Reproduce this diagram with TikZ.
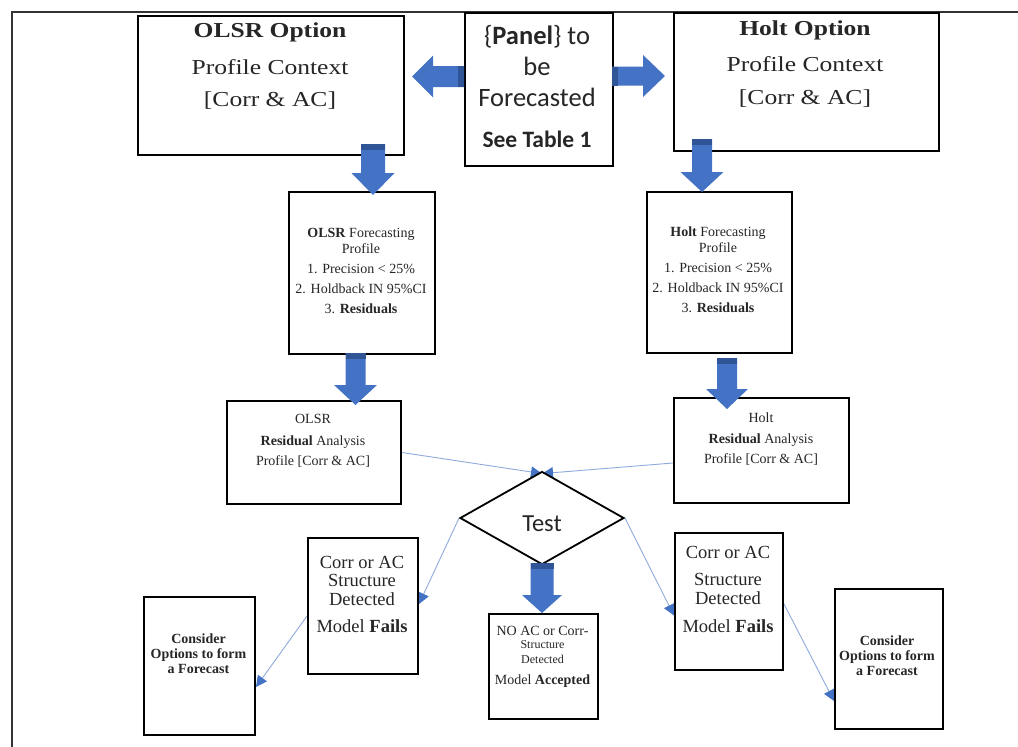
\documentclass[tikz,border=0pt]{standalone}
\usepackage{fontspec}
\setmainfont{Liberation Serif}
\newfontfamily\twide[FakeStretch=1.2]{Liberation Serif}
\newfontfamily\calib{Carlito}
\usetikzlibrary{shapes.geometric,arrows.meta,backgrounds}
\definecolor{bfill}{HTML}{4472C4}
\definecolor{bdark}{HTML}{2F5597}
\definecolor{thinblue}{HTML}{8FAADC}
% vertical block arrow: cx, top, headstart, tip, shaft half width, head half width
\newcommand\vdarrow[6]{%
  \fill[bfill] (#1-#5,#2) -- (#1+#5,#2) -- (#1+#5,#3) -- (#1+#6,#3) -- (#1,#4) -- (#1-#6,#3) -- (#1-#5,#3) -- cycle;
  \fill[bdark] (#1-#5,#2) rectangle (#1+#5,#2+6);}
% horizontal block arrow: cy, tail, band end, headstart, tip, shaft half, head half
\newcommand\hzarrow[7]{%
  \fill[bfill] (#2,#1-#6) -- (#4,#1-#6) -- (#4,#1-#7) -- (#5,#1) -- (#4,#1+#7) -- (#4,#1+#6) -- (#2,#1+#6) -- cycle;
  \fill[bdark] (#2,#1-#6) rectangle (#3,#1+#6);}
\begin{document}
\begin{tikzpicture}[x=1pt,y=-1pt,
  box/.style={draw=black,line width=2pt,fill=white,rectangle,inner sep=0pt,anchor=north west},
  dia/.style={diamond,draw=black,line width=1.8pt,fill=white,inner sep=0pt,minimum width=164pt,minimum height=93pt},
  txt/.style={align=center,inner sep=0pt,anchor=base,text=black!85},
  conn/.style={draw=thinblue,line width=0.9pt,-{Triangle[length=11pt,width=11pt,color=bfill]}}]
\useasboundingbox (0,0) rectangle (1018,747);

% boxes
\node[box,minimum width=266pt,minimum height=139pt] (olsr) at (137,15) {};
\node[box,minimum width=148pt,minimum height=153pt] (panel) at (464,12) {};
\node[box,minimum width=265pt,minimum height=138pt] (holt) at (673,12) {};
\node[box,minimum width=146pt,minimum height=162pt] (olsrfp) at (288,191) {};
\node[box,minimum width=145pt,minimum height=161pt] (holtfp) at (646,191) {};
\node[box,minimum width=174pt,minimum height=103pt] (olsrres) at (226,400) {};
\node[box,minimum width=175pt,minimum height=105pt] (holtres) at (673,397) {};
\node[dia] (test) at (542,518) {};
\node[box,minimum width=110pt,minimum height=136pt] (lcorr) at (307,537) {};
\node[box,minimum width=109pt,minimum height=105pt] (noac) at (488,613) {};
\node[box,minimum width=108pt,minimum height=137pt] (rcorr) at (674,532) {};
\node[box,minimum width=111pt,minimum height=138pt] (lcons) at (143,596) {};
\node[box,minimum width=108pt,minimum height=140pt] (rcons) at (834,588) {};

% texts (anchored at the baseline of their last line)
\node[txt,font=\twide\fontsize{21.3}{32.5}\selectfont] (olsrT) at (270,106.5)
  {\textbf{OLSR Option}\\[4pt]Profile Context\\{}[Corr \& AC]};
\node[txt,font=\twide\fontsize{21.3}{32.5}\selectfont] (holtT) at (805,104)
  {\textbf{Holt Option}\\[4pt]Profile Context\\{}[Corr \& AC]};
\node[txt,font=\calib\fontsize{26.5}{31}\selectfont] (panelT) at (537,147)
  {\{\textbf{Panel}\} to\\be\\Forecasted\\[10pt]{\fontsize{23.5}{24}\selectfont\bfseries See Table 1}};
\node[txt,font=\fontsize{14}{20}\selectfont] (olsrfpT) at (361,313)
  {\textbf{OLSR} Forecasting\\[-4pt]Profile\\1. Precision < 25\%\\2. Holdback IN 95\%CI\\3. \textbf{Residuals}};
\node[txt,font=\fontsize{14}{20}\selectfont] (holtfpT) at (718,312)
  {\textbf{Holt} Forecasting\\[-4pt]Profile\\1. Precision < 25\%\\2. Holdback IN 95\%CI\\3. \textbf{Residuals}};
\node[txt,font=\fontsize{14}{20}\selectfont] (olsrresT) at (313,465)
  {OLSR\\[2pt]\textbf{Residual} Analysis\\Profile [Corr \& AC]};
\node[txt,font=\fontsize{14}{20}\selectfont] (holtresT) at (761,463)
  {Holt\\[1pt]\textbf{Residual} Analysis\\Profile [Corr \& AC]};
\node[txt,font=\calib\fontsize{24.5}{24.5}\selectfont] (testT) at (542,531) {Test};
\node[txt,font=\fontsize{18.5}{18.5}\selectfont] (lcorrT) at (362,632)
  {Corr or AC\\Structure\\Detected\\[8.5pt]Model \textbf{Fails}};
\node[txt,font=\fontsize{18.5}{18.5}\selectfont] (rcorrT) at (728,632)
  {Corr or AC\\[8.5pt]Structure\\Detected\\[9.5pt]Model \textbf{Fails}};
\node[txt,font=\fontsize{14}{14}\selectfont] (noacT) at (542.5,684)
  {NO AC or Corr-\\[-1pt]{\fontsize{12}{12}\selectfont Structure}\\[1pt]{\fontsize{12}{12}\selectfont Detected}\\[7pt]Model \textbf{Accepted}};
\node[txt,font=\bfseries\fontsize{14}{15}\selectfont] (lconsT) at (198.5,673)
  {Consider\\Options to form\\a Forecast};
\node[txt,font=\bfseries\fontsize{14}{15}\selectfont] (rconsT) at (887,675)
  {Consider\\Options to form\\a Forecast};

% background: page, frame, thin connectors
\begin{pgfonlayer}{background}
\fill[white] (0,0) rectangle (1018,747);
\draw[line width=1.5pt,draw=black!80] (12,747) -- (12,12) -- (1018,12);
\draw[conn] (olsrres.east) -- ([yshift=-3pt]test.north);
\draw[conn] ([yshift=-12.5pt]holtres.west) -- ([yshift=-3pt]test.north);
\draw[conn] (test.west) -- ([yshift=2pt]lcorr.east);
\draw[conn] ([yshift=-10pt]lcorr.west) -- ([yshift=-21pt]lcons.east);
\draw[conn] (test.east) -- ([yshift=-14pt]rcorr.west);
\draw[conn] ([yshift=-2.5pt]rcorr.east) -- ([yshift=-42pt]rcons.west);
\end{pgfonlayer}

% block arrows
\vdarrow{373}{144}{173}{195}{12}{21.5}
\vdarrow{702}{139}{172}{192}{10}{21.5}
\vdarrow{355.5}{353}{385}{405}{10}{21.5}
\vdarrow{727}{358}{389}{409}{10}{21}
\vdarrow{542}{563}{595}{613}{11.5}{20}
\hzarrow{76.5}{464}{458}{433}{412}{10.5}{21}
\hzarrow{76}{612}{618}{643}{665}{9.5}{21}
\end{tikzpicture}
\end{document}
